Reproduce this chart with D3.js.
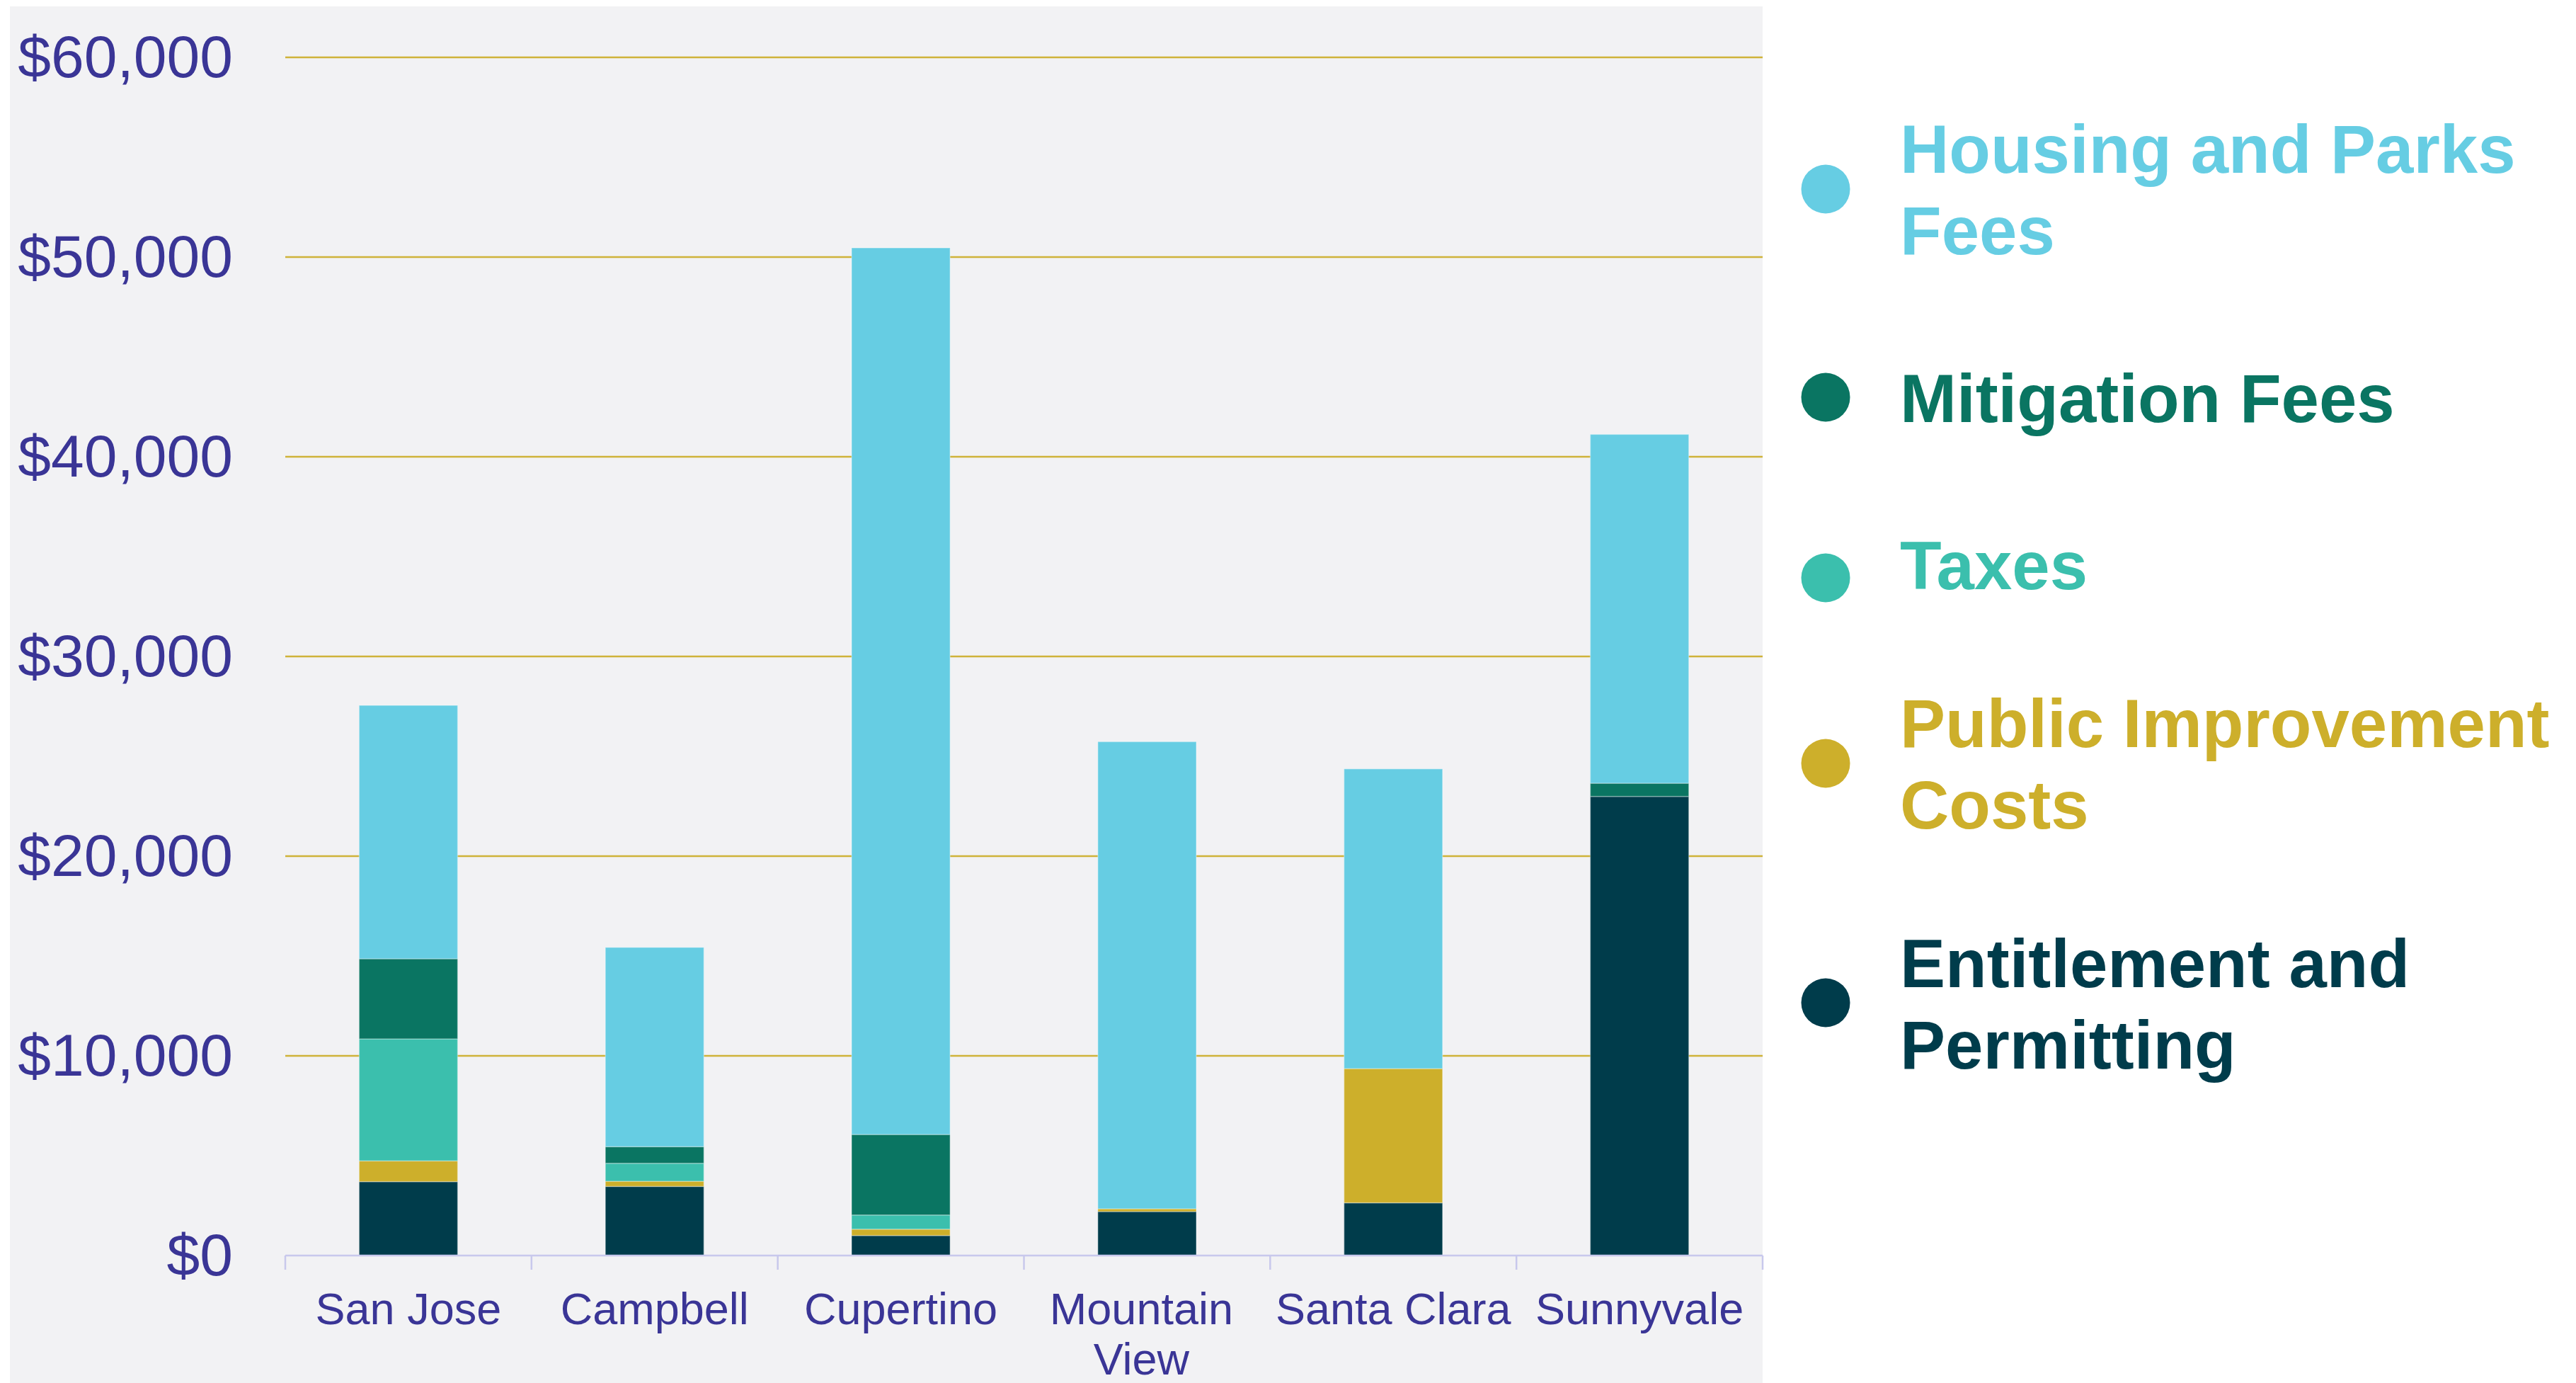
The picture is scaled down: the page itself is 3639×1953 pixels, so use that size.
<!DOCTYPE html>
<html>
<head>
<meta charset="utf-8">
<script src="https://cdn.jsdelivr.net/npm/d3@7"></script>
<style>
  body { margin: 0; background: #ffffff; }
  svg { display: block; font-family: "Liberation Sans", Arial, sans-serif; }
</style>
</head>
<body>
<div class="parent"></div>
<script>
// values, bottom segment first
const cities = ["San Jose", "Campbell", "Cupertino", "Mountain View", "Santa Clara", "Sunnyvale"];
const entitlement = [3700, 3460, 1000, 2200, 2640, 22990];
const publicImprovement = [1040, 260, 320, 140, 6720, 0];
const taxes = [6110, 900, 710, 0, 0, 0];
const mitigation = [4010, 830, 4030, 0, 0, 660];
const housingParks = [12690, 9980, 44400, 23390, 15010, 17470];
const yTicks = [0, 10000, 20000, 30000, 40000, 50000, 60000];

const seriesKeys = ["entitlement", "public", "taxes", "mitigation", "housing"];
const seriesNames = {
  housing: "Housing and Parks Fees",
  mitigation: "Mitigation Fees",
  taxes: "Taxes",
  public: "Public Improvement Costs",
  entitlement: "Entitlement and Permitting"
};
const colors = {
  housing: "#66cde3",
  mitigation: "#0a7562",
  taxes: "#3bbfad",
  public: "#cdaf2b",
  entitlement: "#003c4b"
};

const table = cities.map((c, i) => ({
  city: c,
  entitlement: entitlement[i],
  public: publicImprovement[i],
  taxes: taxes[i],
  mitigation: mitigation[i],
  housing: housingParks[i]
}));

const width = 3639, height = 1953;
const plot = { left: 403, right: 2490, top: 81, bottom: 1773 };

const svg = d3.select(".parent").append("svg")
  .attr("width", width)
  .attr("height", height);

// grey panel behind the chart
svg.append("rect")
  .attr("x", 14).attr("y", 9)
  .attr("width", plot.right - 14).attr("height", height - 9)
  .attr("fill", "#f2f2f4");

const x = d3.scaleBand()
  .domain(cities)
  .range([plot.left, plot.right])
  .paddingInner(0.6)
  .paddingOuter(0.3);

const y = d3.scaleLinear()
  .domain([0, 60000])
  .range([plot.bottom, plot.top]);

// gridlines
svg.append("g")
  .selectAll("line")
  .data(yTicks.filter(d => d > 0))
  .join("line")
  .attr("x1", plot.left).attr("x2", plot.right)
  .attr("y1", d => y(d)).attr("y2", d => y(d))
  .attr("stroke", "#cfb33a")
  .attr("stroke-width", 2.5);

// y labels
const fmt = d3.format(",");
svg.append("g")
  .selectAll("text")
  .data(yTicks)
  .join("text")
  .attr("x", 329)
  .attr("y", d => y(d) + 28)
  .attr("text-anchor", "end")
  .attr("fill", "#3a3596")
  .style("font-size", "84px")
  .text(d => "$" + fmt(d));

// stacked bars
const stacked = d3.stack().keys(seriesKeys)(table);

svg.append("g")
  .selectAll("g")
  .data(stacked)
  .join("g")
  .attr("fill", d => colors[d.key])
  .selectAll("rect")
  .data(d => d.filter(s => s[1] - s[0] > 0))
  .join("rect")
  .attr("x", d => x(d.data.city))
  .attr("width", x.bandwidth())
  .attr("y", d => y(d[1]))
  .attr("height", d => y(d[0]) - y(d[1]))
  .attr("stroke", "#ffffff")
  .attr("stroke-opacity", 0.3)
  .attr("stroke-width", 1.5);

// x axis
const xAxis = svg.append("g")
  .attr("transform", `translate(0, ${plot.bottom})`);

xAxis.append("line")
  .attr("x1", plot.left).attr("x2", plot.right)
  .attr("stroke", "#c8c8ec").attr("stroke-width", 2.5);

const boundaries = cities.map(c => x(c) - x.step() * x.paddingOuter())
  .concat([plot.right]);
xAxis.selectAll(".tick")
  .data(boundaries)
  .join("line")
  .attr("class", "tick")
  .attr("x1", d => d).attr("x2", d => d)
  .attr("y1", 0).attr("y2", 20)
  .attr("stroke", "#c8c8ec").attr("stroke-width", 2.5);

const labels = xAxis.selectAll(".lbl")
  .data(cities)
  .join("text")
  .attr("class", "lbl")
  .attr("text-anchor", "middle")
  .attr("fill", "#3a3596")
  .style("font-size", "63px");

// wrap labels that are wider than the band step
labels.each(function (d) {
  const t = d3.select(this);
  const cx = x(d) + x.bandwidth() / 2;
  const words = d.split(" ");
  let lines = [], line = [];
  words.forEach(w => {
    const test = line.concat([w]).join(" ");
    t.text(test);
    if (this.getComputedTextLength() > x.step() && line.length) {
      lines.push(line.join(" "));
      line = [w];
    } else {
      line.push(w);
    }
  });
  lines.push(line.join(" "));
  t.text(null);
  lines.forEach((l, i) => {
    t.append("tspan")
      .attr("x", lines.length > 1 ? cx - 8 : cx)
      .attr("y", 97 + i * 71)
      .text(l);
  });
});

// legend (top to bottom)
const legendOrder = ["housing", "mitigation", "taxes", "public", "entitlement"];
const legendLines = {
  housing: ["Housing and Parks", "Fees"],
  mitigation: ["Mitigation Fees"],
  taxes: ["Taxes"],
  public: ["Public Improvement", "Costs"],
  entitlement: ["Entitlement and", "Permitting"]
};
const legendCircleY = [267, 561, 816, 1078, 1416];
const legendBaseline = [244, 596, 832, 1055, 1394];

const legend = svg.append("g");
legendOrder.forEach((k, i) => {
  legend.append("circle")
    .attr("cx", 2579)
    .attr("cy", legendCircleY[i])
    .attr("r", 34.5)
    .attr("fill", colors[k]);
  const t = legend.append("text")
    .attr("fill", colors[k])
    .style("font-size", "96px")
    .style("font-weight", "bold");
  t.append("title").text(seriesNames[k]);
  legendLines[k].forEach((l, j) => {
    t.append("tspan")
      .attr("x", 2684)
      .attr("y", legendBaseline[i] + j * 115)
      .text(l);
  });
});
</script>
</body>
</html>
